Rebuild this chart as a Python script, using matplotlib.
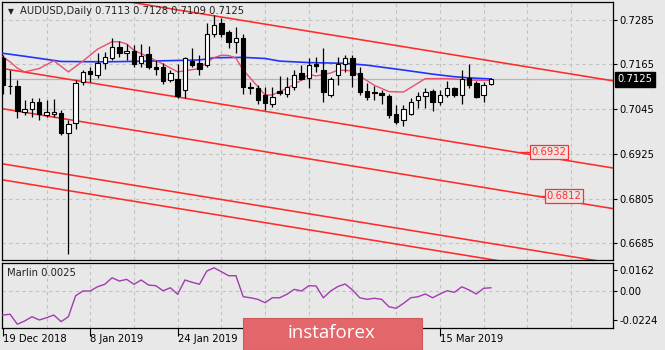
import matplotlib
matplotlib.use('Agg')
import matplotlib.pyplot as plt
from matplotlib.patches import Rectangle

plt.rcParams['font.family'] = ['DejaVu Sans']

# ---------------- data ----------------
symbol_title = "AUDUSD,Daily"
last_ohlc = ["0.7113", "0.7128", "0.7109", "0.7125"]
last_price = 0.7125

opens = [0.7181, 0.7108, 0.7107, 0.7037, 0.7045, 0.7063, 0.7029, 0.7032, 0.7035, 0.6980,
         0.7007, 0.7117, 0.7147, 0.7136, 0.7168, 0.7183, 0.7212, 0.7195, 0.7201, 0.7168,
         0.7192, 0.7159, 0.7159, 0.7123, 0.7126, 0.7096, 0.7174, 0.7168, 0.7163, 0.7246,
         0.7275, 0.7251, 0.7224, 0.7235, 0.7104, 0.7101, 0.7083, 0.7060, 0.7093, 0.7087,
         0.7105, 0.7141, 0.7129, 0.7166, 0.7150, 0.7084, 0.7136, 0.7165, 0.7183, 0.7141,
         0.7093, 0.7090, 0.7089, 0.7081, 0.7033, 0.7015, 0.7033, 0.7069, 0.7081, 0.7093,
         0.7065, 0.7083, 0.7101, 0.7084, 0.7129, 0.7114, 0.7082, 0.7113]
highs = [0.7190, 0.7150, 0.7123, 0.7069, 0.7074, 0.7074, 0.7069, 0.7072, 0.7042, 0.7015,
         0.7123, 0.7150, 0.7159, 0.7195, 0.7199, 0.7235, 0.7228, 0.7219, 0.7217, 0.7221,
         0.7215, 0.7177, 0.7168, 0.7150, 0.7165, 0.7185, 0.7208, 0.7190, 0.7275, 0.7297,
         0.7289, 0.7257, 0.7266, 0.7246, 0.7117, 0.7109, 0.7104, 0.7105, 0.7134, 0.7132,
         0.7150, 0.7163, 0.7181, 0.7185, 0.7208, 0.7132, 0.7185, 0.7190, 0.7190, 0.7159,
         0.7114, 0.7108, 0.7096, 0.7087, 0.7056, 0.7056, 0.7074, 0.7090, 0.7101, 0.7099,
         0.7096, 0.7120, 0.7105, 0.7150, 0.7165, 0.7120, 0.7118, 0.7128]
lows = [0.7087, 0.7087, 0.7020, 0.7029, 0.7024, 0.7015, 0.7024, 0.7024, 0.6975, 0.6657,
        0.6993, 0.7109, 0.7118, 0.7129, 0.7154, 0.7177, 0.7185, 0.7177, 0.7159, 0.7159,
        0.7154, 0.7136, 0.7112, 0.7117, 0.7075, 0.7075, 0.7159, 0.7136, 0.7159, 0.7239,
        0.7239, 0.7208, 0.7195, 0.7087, 0.7087, 0.7058, 0.7042, 0.7051, 0.7083, 0.7078,
        0.7096, 0.7123, 0.7101, 0.7145, 0.7065, 0.7078, 0.7109, 0.7145, 0.7105, 0.7084,
        0.7069, 0.7069, 0.7058, 0.7022, 0.7004, 0.7000, 0.7029, 0.7047, 0.7048, 0.7040,
        0.7056, 0.7078, 0.7078, 0.7058, 0.7102, 0.7074, 0.7065, 0.7109]
closes = [0.7109, 0.7106, 0.7040, 0.7045, 0.7065, 0.7031, 0.7038, 0.7036, 0.6982, 0.7004,
          0.7114, 0.7145, 0.7139, 0.7168, 0.7184, 0.7212, 0.7195, 0.7201, 0.7165, 0.7188,
          0.7159, 0.7152, 0.7120, 0.7141, 0.7081, 0.7181, 0.7163, 0.7154, 0.7248, 0.7272,
          0.7248, 0.7224, 0.7235, 0.7105, 0.7102, 0.7069, 0.7061, 0.7078, 0.7089, 0.7105,
          0.7138, 0.7127, 0.7163, 0.7160, 0.7091, 0.7127, 0.7165, 0.7183, 0.7136, 0.7090,
          0.7078, 0.7089, 0.7083, 0.7029, 0.7011, 0.7045, 0.7065, 0.7081, 0.7091, 0.7065,
          0.7084, 0.7101, 0.7084, 0.7127, 0.7111, 0.7078, 0.7111, 0.7125]

# slow moving average (blue), read at bar indices
ma_slow_idx = [0, 3, 8, 14, 20, 27, 29, 33, 36, 38, 42, 47, 50, 55, 59, 62, 64, 67]
ma_slow_val = [0.7195, 0.7187, 0.7173, 0.7172, 0.7174, 0.7177, 0.7183, 0.7184, 0.7181, 0.7174,
               0.7170, 0.7168, 0.7163, 0.7150, 0.7139, 0.7132, 0.7129, 0.7126]
# fast moving average (pink)
ma_fast_idx = [0, 1, 2, 3, 5, 7, 9, 11, 12, 13, 15, 16, 17, 18, 20, 22, 24, 25, 27, 28,
               29, 30, 31, 32, 33, 34, 36, 37, 39, 41, 42, 43, 45, 46, 48, 49, 51, 53, 55, 57,
               58, 61, 64, 67]
ma_fast_val = [0.7186, 0.7172, 0.7155, 0.7145, 0.7154, 0.7175, 0.7145, 0.7174, 0.7190, 0.7206,
               0.7226, 0.7226, 0.7220, 0.7203, 0.7185, 0.7166, 0.7145, 0.7148, 0.7154, 0.7171,
               0.7183, 0.7190, 0.7189, 0.7182, 0.7150, 0.7128, 0.7083, 0.7083, 0.7101, 0.7123,
               0.7139, 0.7134, 0.7142, 0.7150, 0.7148, 0.7134, 0.7109, 0.7092, 0.7091, 0.7115,
               0.7127, 0.7127, 0.7123, 0.7122]

# channel lines: (bar0, price0, bar1, price1)
channel_lines = [(0, 0.7388, 80, 0.7133),
                 (0, 0.7154, 80, 0.6899),
                 (0, 0.7046, 80, 0.6790),
                 (0, 0.6898, 80, 0.6643),
                 (0, 0.6855, 80, 0.6600)]
level_labels = ["0.6932", "0.6812"]
level_values = [0.6930, 0.6812]

marlin_name = "Marlin"
marlin_last = "0.0025"
marlin = [-0.0185, -0.0179, -0.0256, -0.0231, -0.0198, -0.0223, -0.0206, -0.0185, -0.0236, -0.0198,
          -0.0036, 0.0, 0.0, 0.0033, 0.0052, 0.0102, 0.0077, 0.0090, 0.0052, 0.0085,
          0.0046, 0.0041, 0.0002, 0.0025, -0.0025, 0.0085, 0.0067, 0.0052, 0.0154, 0.0179,
          0.0149, 0.0118, 0.0118, -0.0044, -0.0052, -0.0064, -0.0090, -0.0052, -0.0052, -0.0025,
          0.0013, 0.0, 0.0041, 0.0039, -0.0052, 0.0, 0.0035, 0.0054, 0.0008, -0.0052,
          -0.0064, -0.0056, -0.0064, -0.0121, -0.0133, -0.0095, -0.0052, -0.0044, -0.0023, -0.0052,
          -0.0023, 0.0002, -0.0010, 0.0033, 0.0008, -0.0023, 0.0021, 0.0025]

price_ticks = [0.7285, 0.7165, 0.7045, 0.6925, 0.6805, 0.6685]
marlin_ticks = [0.0162, 0.0, -0.0224]
marlin_tick_labels = ["0.0162", "0.00", "-0.0224"]
date_tick_idx = [0, 12, 24, 60]
date_tick_labels = ["19 Dec 2018", "8 Jan 2019", "24 Jan 2019", "15 Mar 2019"]

# ---------------- style ----------------
BG = '#e8e8e8'
GRID = '#c2c2c2'
FS = 7.2
W, H = 665, 350

fig = plt.figure(figsize=(W / 100, H / 100), dpi=100, facecolor=BG)


def frame(x0, y0, x1, y1):
    return [x0 / W, 1 - y1 / H, (x1 - x0) / W, (y1 - y0) / H]


ax = fig.add_axes(frame(2, 1.5, 613, 260), facecolor=BG)
ax2 = fig.add_axes(frame(2, 263, 613, 328), facecolor=BG)

XMIN, XMAX = -0.11, 83.76
for a in (ax, ax2):
    a.set_xlim(XMIN, XMAX)
    for s in a.spines.values():
        s.set_color('black')
        s.set_linewidth(0.9)
    for g in range(6, 84, 6):
        a.axvline(g, color=GRID, lw=0.8, ls=(0, (3, 3)), zorder=0)

ax.set_ylim(0.6640, 0.7334)
ax2.set_ylim(-0.0285, 0.0216)

for p in price_ticks:
    ax.axhline(p, color=GRID, lw=0.8, ls=(0, (3, 3)), zorder=0)
ax2.axhline(0.0, color=GRID, lw=0.8, ls=(0, (3, 3)), zorder=0)

# current price line
ax.axhline(last_price, color='#b5b5b5', lw=0.9, zorder=1)

# channel lines
for (b0, p0, b1, p1) in channel_lines:
    slope = (p1 - p0) / (b1 - b0)
    xs = [-2, 90]
    ys = [p0 + slope * (x - b0) for x in xs]
    ax.plot(xs, ys, color='#ff2a2a', lw=1.15, zorder=2, solid_capstyle='butt')

# moving averages
ax.plot(ma_slow_idx, ma_slow_val, color='#2233ff', lw=1.2, zorder=3)
ax.plot(ma_fast_idx, ma_fast_val, color='#e8506e', lw=1.0, zorder=3)

# candles
for i, (o, h, l, c) in enumerate(zip(opens, highs, lows, closes)):
    ax.vlines(i, l, h, color='black', lw=0.9, zorder=4)
    bottom = min(o, c)
    height = max(abs(c - o), 0.00004)
    ax.add_patch(Rectangle((i - 0.3, bottom), 0.6, height,
                           facecolor='white' if c >= o else 'black',
                           edgecolor='black', lw=0.8, zorder=5))

# level labels on channel lines
label_pos = [72.3, 74.4]
leader = [(71.0, 72.3), (73.5, 74.4)]
for txt, val, xp, (l0, l1) in zip(level_labels, level_values, label_pos, leader):
    ax.plot([l0, l1], [val, val], color='#ff2a2a', lw=1.0, zorder=6)
    ax.text(xp + 0.25, val, txt, color='#ff3030', fontsize=FS, ha='left', va='center', zorder=7,
            bbox=dict(boxstyle='square,pad=0.18', facecolor='#ece4e4', edgecolor='#ff3030', lw=0.9))

# axes ticks main
ax.set_xticks([])
ax.yaxis.tick_right()
ax.set_yticks(price_ticks)
ax.set_yticklabels([f"{p:.4f}" for p in price_ticks])
ax.tick_params(axis='y', length=3, width=0.8, pad=1.6, labelsize=FS, colors='black')

# price tag
ax.annotate(f"{last_price:.4f}", xy=(1, last_price), xycoords=('axes fraction', 'data'),
            xytext=(3.2, 0), textcoords='offset points', ha='left', va='center',
            color='white', fontsize=FS, zorder=10, annotation_clip=False,
            bbox=dict(boxstyle='square,pad=0.25', facecolor='black', edgecolor='black'))

# marlin
ax2.plot(range(len(marlin)), marlin, color='#a23cb0', lw=1.0, zorder=3)
ax2.yaxis.tick_right()
ax2.set_yticks(marlin_ticks)
ax2.set_yticklabels(marlin_tick_labels)
ax2.tick_params(axis='y', length=3, width=0.8, pad=1.6, labelsize=FS)
ax2.set_xticks(date_tick_idx)
ax2.set_xticklabels(date_tick_labels)
ax2.tick_params(axis='x', length=5.5, width=0.8, pad=-1.2, labelsize=FS)
for lab in ax2.get_xticklabels():
    lab.set_horizontalalignment('left')

# texts
fig.text(10.5 / W, 1 - 11.5 / H, '\u25bc', fontsize=5.5, ha='center', va='center', color='#222222')
fig.text(20 / W, 1 - 11.5 / H, symbol_title + ' ' + ' '.join(last_ohlc), fontsize=FS,
         ha='left', va='center', color='#222222')
fig.text(7 / W, 1 - 273 / H, f"{marlin_name} {marlin_last}", fontsize=FS, ha='left', va='center',
         color='#222222')

# watermark
fig.patches.append(Rectangle((243 / W, 0), (422 - 243) / W, 32 / H, transform=fig.transFigure,
                             facecolor='#e2666a', edgecolor='#cf5a5e', lw=0.8, zorder=10))
fig.text(331 / W, 1 - 333 / H, 'instaforex', color='white', fontsize=13.5, ha='center',
         va='center', family=['Open Sans', 'DejaVu Sans'], zorder=11)

fig.savefig('out.png', dpi=100, facecolor=BG)
